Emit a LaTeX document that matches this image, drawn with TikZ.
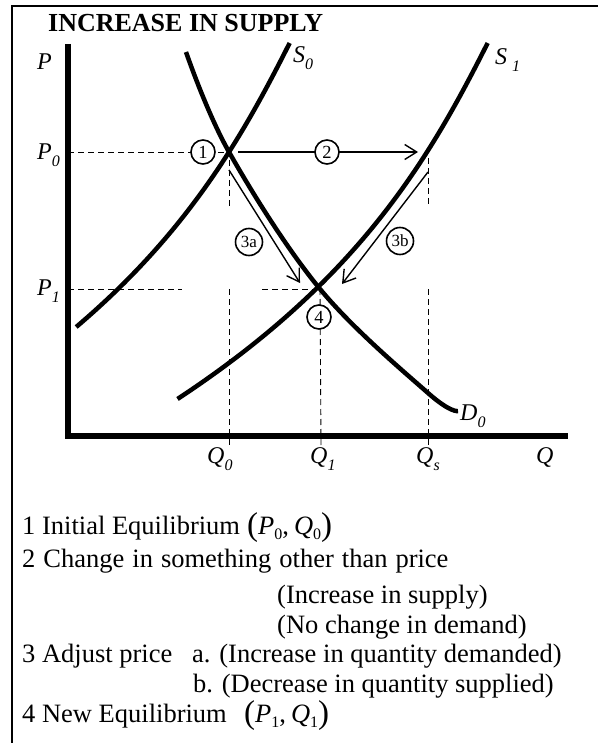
\documentclass[tikz,border=0pt]{standalone}
\usepackage{fontspec}
\setmainfont{Liberation Serif}
\usetikzlibrary{arrows.meta}
\newcommand\axl[2]{{\fontsize{24}{24}\selectfont\itshape #1}\raisebox{-7pt}{\fontsize{16}{16}\selectfont\itshape #2}}
\newcommand\mpq[2]{{\itshape #1}\raisebox{-5pt}{\fontsize{16}{16}\selectfont #2}}
\newcommand\bpar[1]{{\fontsize{33}{33}\selectfont\raisebox{-1.5pt}{#1}}}
\tikzset{
  axisline/.style={line width=5.5pt},
  curve/.style={line width=4.5pt},
  guide/.style={line width=0.9pt, dash pattern=on 6pt off 4pt},
  move/.style={line width=1.4pt, -{Straight Barb[length=12pt,width=15pt,line width=1.4pt]}},
  stepnum/.style={circle, draw, line width=1.6pt, fill=white, inner sep=0.5pt, minimum size=24pt, font=\fontsize{18.5}{18.5}\selectfont},
  lbl/.style={anchor=base west, inner sep=0pt},
  listtxt/.style={anchor=base west, inner sep=0pt, font=\fontsize{26.5}{26.5}\selectfont},
}
\begin{document}
\begin{tikzpicture}[x=1pt,y=-1pt]
\useasboundingbox (0,0) rectangle (598,743);
% frame
\draw[line width=2.2pt] (12,743) -- (12,6) -- (598,6);
% title
\node[lbl, font=\fontsize{26}{26}\selectfont\bfseries] (title) at (48,32) {INCREASE IN SUPPLY};
% key coordinates
\coordinate (origin) at (68,436);
\coordinate (ptop) at (68,44);
\coordinate (qend) at (568,436);
\coordinate (e0) at (229,152);
\coordinate (e1) at (320,289);
% guides
\coordinate (p0ax) at (68,152);
\coordinate (p1ax) at (68,289);
\coordinate (p1a) at (182,289);
\coordinate (p1b) at (262,289);
\draw[guide] (p0ax) -- (e0);
\draw[guide] (p1ax) -- (p1a);
\draw[guide] (p1b) -- (e1);
\coordinate (q0a) at (229,160); \coordinate (q0b) at (229,207);
\coordinate (q0c) at (229,289); \coordinate (q0d) at (229,446);
\draw[guide] (q0a) -- (q0b);
\draw[guide] (q0c) -- (q0d);
\coordinate (q1d) at (321,446);
\draw[guide] (e1) -- (q1d);
\coordinate (qsa) at (428,158); \coordinate (qsb) at (428,207);
\coordinate (qsc) at (428,289); \coordinate (qsd) at (428,446);
\draw[guide] (qsa) -- (qsb);
\draw[guide] (qsc) -- (qsd);
% axes
\draw[axisline] (ptop) -- (origin) -- (qend);
% supply curves (S1 = S0 shifted right)
\draw[curve] plot[domain=43:327, samples=60, variable=\t]
  ({180.17 - 80*((\t-220.5)/100) - 14.23*((\t-220.5)/100)^2 - 2.203*((\t-220.5)/100)^3}, \t);
\draw[curve] plot[domain=43:399, samples=70, variable=\t]
  ({378.17 - 80*((\t-220.5)/100) - 14.23*((\t-220.5)/100)^2 - 2.203*((\t-220.5)/100)^3}, \t);
% demand curve
\draw[curve] plot[smooth, tension=0.6] coordinates {(186,52) (229,152) (320,289) (428,393) (458,411)};
% moves
\coordinate (a2s) at (238,152);
\coordinate (a2e) at (418,152);
\draw[move] (a2s) -- (a2e);
\coordinate (a3as) at (229,170);
\coordinate (a3ae) at (300,283);
\draw[move] (a3as) -- (a3ae);
\coordinate (a3bs) at (428,172);
\coordinate (a3be) at (342,284);
\draw[move] (a3bs) -- (a3be);
% step markers
\node[stepnum] (n1) at (203,152) {1};
\node[stepnum] (n2) at (327,152) {2};
\node[stepnum, minimum size=27pt, font=\fontsize{17}{17}\selectfont] (n3a) at (249,242) {3a};
\node[stepnum, minimum size=27pt, font=\fontsize{17}{17}\selectfont] (n3b) at (400,241) {3b};
\node[stepnum] (n4) at (319,317) {4};
% axis labels
\node[lbl] (lP) at (37,70) {\fontsize{24}{24}\selectfont\itshape P};
\node[lbl] (lP0) at (37,160) {\axl{P}{0}};
\node[lbl] (lP1) at (37,295) {\axl{P}{1}};
\node[lbl] (lS0) at (293,63) {\axl{S}{0}};
\node[lbl] (lS1) at (495,65) {\axl{S}{\hspace{5pt}1}};
\node[lbl] (lD0) at (460,420) {\axl{D}{0}};
\node[lbl] (lQ0) at (207,463) {\axl{Q}{0}};
\node[lbl] (lQ1) at (310,463) {\axl{Q}{1}};
\node[lbl] (lQs) at (416,463) {\axl{Q}{s}};
\node[lbl] (lQ) at (536,463) {\fontsize{24}{24}\selectfont\itshape Q};
% listing
\node[listtxt] (t1) at (22,534) {1 Initial Equilibrium};
\node[listtxt] (t1b) at (247,534) {\bpar{(}\mpq{P}{0},\hspace{5pt}\mpq{Q}{0}\bpar{)}};
\node[listtxt] (t2) at (22,567) {\spaceskip=8pt plus 1pt 2 Change in something other than price};
\node[listtxt] (t2a) at (277,603) {(Increase in supply)};
\node[listtxt] (t2b) at (277,633) {(No change in demand)};
\node[listtxt] (t3) at (22,662) {3 Adjust price};
\node[listtxt] (t3a) at (192,662) {a. (Increase in quantity demanded)};
\node[listtxt] (t3b) at (193,692) {b. (Decrease in quantity supplied)};
\node[listtxt] (t4) at (22,722) {4 New Equilibrium};
\node[listtxt] (t4b) at (244,722) {\bpar{(}\mpq{P}{1},\hspace{5pt}\mpq{Q}{1}\bpar{)}};
\end{tikzpicture}
\end{document}
